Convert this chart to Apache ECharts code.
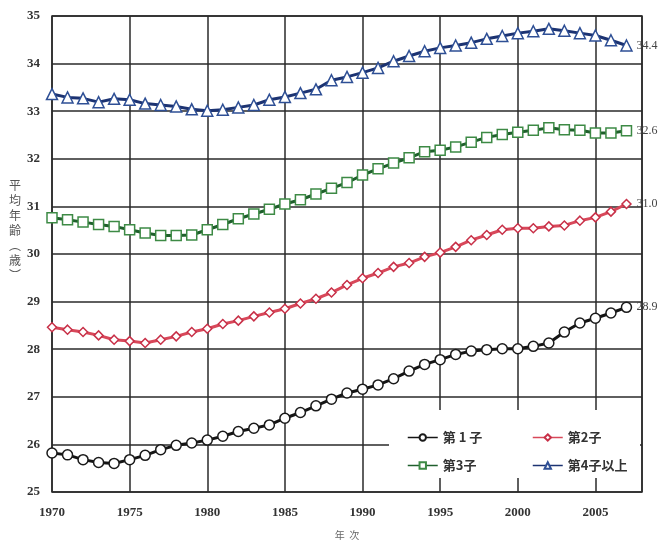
<!DOCTYPE html>
<html><head><meta charset="utf-8">
<script src="https://cdn.jsdelivr.net/npm/echarts@6/dist/echarts.min.js"></script>
<style>html,body{margin:0;padding:0;background:#fff}#c{width:667px;height:545px}</style>
</head><body><div id="c"></div>
<script>
const years = [1970,1971,1972,1973,1974,1975,1976,1977,1978,1979,1980,1981,1982,1983,1984,1985,1986,1987,1988,1989,1990,1991,1992,1993,1994,1995,1996,1997,1998,1999,2000,2001,2002,2003,2004,2005,2006,2007];
const first = [25.82,25.78,25.68,25.62,25.60,25.68,25.77,25.89,25.98,26.03,26.09,26.17,26.27,26.34,26.41,26.55,26.67,26.81,26.95,27.08,27.16,27.25,27.38,27.54,27.68,27.78,27.89,27.96,27.99,28.01,28.01,28.06,28.13,28.36,28.55,28.65,28.76,28.88];
const second = [28.46,28.41,28.36,28.29,28.20,28.17,28.13,28.20,28.27,28.36,28.43,28.53,28.60,28.69,28.77,28.85,28.96,29.06,29.19,29.35,29.49,29.60,29.73,29.81,29.94,30.03,30.15,30.29,30.40,30.51,30.54,30.54,30.58,30.60,30.70,30.77,30.89,31.05];
const third = [30.76,30.72,30.67,30.62,30.58,30.51,30.44,30.39,30.39,30.40,30.51,30.62,30.74,30.84,30.94,31.05,31.14,31.26,31.38,31.50,31.66,31.79,31.91,32.02,32.15,32.18,32.25,32.35,32.45,32.51,32.56,32.60,32.65,32.61,32.60,32.54,32.54,32.59];
const fourth = [33.36,33.29,33.27,33.19,33.26,33.24,33.16,33.13,33.10,33.04,33.01,33.03,33.08,33.13,33.24,33.30,33.38,33.46,33.65,33.72,33.81,33.91,34.05,34.16,34.26,34.33,34.38,34.44,34.52,34.58,34.64,34.68,34.73,34.69,34.64,34.59,34.49,34.38];
const seriesNames = ['第 1 子','第2子','第3子','第4子以上'];
const endLabels = ['28.9','31.0','32.6','34.4'];
const yTitle = '平\n均\n年\n齢\n︵\n歳\n︶';
const xTitle = '年  次';

const values = [first, second, third, fourth];
const styles = [
  {line:'#151515', border:'#1a1a1a', symbol:'circle', size:10},
  {line:'#d8485a', border:'#c83048', symbol:'diamond', size:9},
  {line:'#1f5f2c', border:'#3d8a45', symbol:'rect', size:10},
  {line:'#1c3372', border:'#2e4f95', symbol:'triangle', size:11}
];
const serif = '"Liberation Serif","DejaVu Serif",serif';

const chart = echarts.init(document.getElementById('c'), null, {renderer:'canvas'});
const series = values.map((v, i) => ({
  name: seriesNames[i],
  type: 'line',
  data: years.map((y, k) => [y, v[k]]),
  symbol: styles[i].symbol,
  symbolSize: styles[i].size,
  lineStyle: {color: styles[i].line, width: 3},
  itemStyle: {color: '#fff', borderColor: styles[i].border, borderWidth: 1.5},
  color: styles[i].line,
  z: 2 + i,
  endLabel: {show: true, formatter: endLabels[i], distance: 10, fontFamily: serif, fontSize: 12, color: '#444'},
  animation: false,
  emphasis: {disabled: true}
}));

chart.setOption({
  animation: false,
  grid: {left: 52, right: 25, top: 16, bottom: 48, show: true, borderColor: '#2a2a2a', borderWidth: 1.5, backgroundColor: 'transparent'},
  xAxis: {
    type: 'value', min: 1970, max: 2008, interval: 5,
    axisLine: {show: false}, axisTick: {show: false},
    splitLine: {show: true, lineStyle: {color: '#2a2a2a', width: 1.5}},
    axisLabel: {fontFamily: serif, fontWeight: 'bold', fontSize: 13, color: '#333', margin: 14, showMaxLabel: false, formatter: v => String(v)},
    name: xTitle, nameLocation: 'middle', nameGap: 38,
    nameTextStyle: {fontFamily: '"Noto Sans CJK JP"', fontSize: 10, color: '#666'}
  },
  yAxis: {
    type: 'value', min: 25, max: 35, interval: 1,
    axisLine: {show: false}, axisTick: {show: false},
    splitLine: {show: true, lineStyle: {color: '#2a2a2a', width: 1.5}},
    axisLabel: {fontFamily: serif, fontWeight: 'bold', fontSize: 13, color: '#333', margin: 12}
  },
  legend: [
    {data: [seriesNames[0], seriesNames[2]], orient: 'vertical', left: 402, top: 426, itemWidth: 30, itemHeight: 8, itemGap: 15,
     textStyle: {fontFamily: '"Noto Sans CJK JP"', fontSize: 13, fontWeight: 'bold', color: '#333'}, lineStyle: {width: 1.5}, z: 5},
    {data: [seriesNames[1], seriesNames[3]], orient: 'vertical', left: 527, top: 426, itemWidth: 30, itemHeight: 8, itemGap: 15,
     textStyle: {fontFamily: '"Noto Sans CJK JP"', fontSize: 13, fontWeight: 'bold', color: '#333'}, lineStyle: {width: 1.5}, z: 5}
  ],
  graphic: [
    {type: 'rect', shape: {x: 389, y: 410, width: 251, height: 68}, style: {fill: '#fff'}, z: 1},
    {type: 'text', x: 9, y: 178, style: {text: yTitle, fontFamily: '"Noto Sans CJK JP"', fontSize: 12, lineHeight: 15, fill: '#555'}, z: 5}
  ],
  series: series
});
</script>
</body></html>
